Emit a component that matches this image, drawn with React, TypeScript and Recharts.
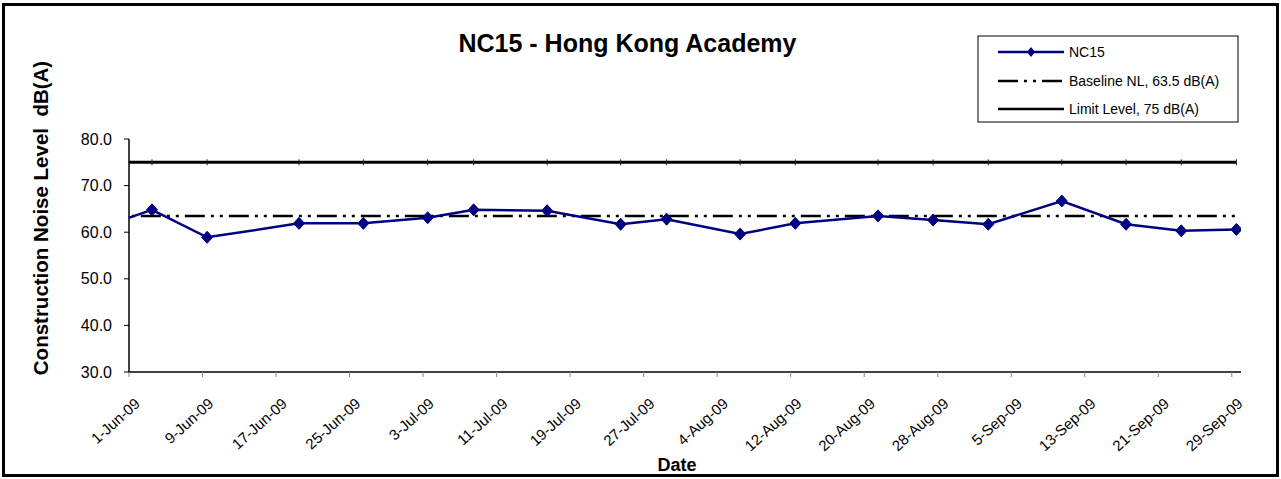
import React from 'react';
import { LineChart, Line, XAxis, YAxis } from 'recharts';

// Monitoring dates (28-May point sits before the axis start and is clipped)
const dates = [
  '2009-05-28', '2009-06-03', '2009-06-09', '2009-06-19', '2009-06-26',
  '2009-07-03', '2009-07-08', '2009-07-16', '2009-07-24', '2009-07-29',
  '2009-08-06', '2009-08-12', '2009-08-21', '2009-08-27', '2009-09-02',
  '2009-09-10', '2009-09-17', '2009-09-23', '2009-09-29',
];
const nc15 = [
  60.7, 64.8, 58.9, 61.9, 61.9,
  63.1, 64.8, 64.6, 61.7, 62.8,
  59.6, 61.9, 63.5, 62.6, 61.7,
  66.7, 61.7, 60.3, 60.6,
];
const BASELINE = 63.5;
const LIMIT = 75;

const tickLabels = [
  '1-Jun-09', '9-Jun-09', '17-Jun-09', '25-Jun-09', '3-Jul-09', '11-Jul-09',
  '19-Jul-09', '27-Jul-09', '4-Aug-09', '12-Aug-09', '20-Aug-09', '28-Aug-09',
  '5-Sep-09', '13-Sep-09', '21-Sep-09', '29-Sep-09',
];
const yTicks = [30, 40, 50, 60, 70, 80];

const title = 'NC15 - Hong Kong Academy';
const yLabel = 'Construction Noise Level  dB(A)';
const xLabel = 'Date';
const legendNames = ['NC15', 'Baseline NL, 63.5 dB(A)', 'Limit Level, 75 dB(A)'];

const FONT = '"Liberation Sans", Arial, sans-serif';
const NAVY = '#000080';
const DASH = '20 6 3 6 3 6';

const DAY = 86400000;
const START = Date.UTC(2009, 5, 1);
const MONTHS: Record<string, number> = { May: 4, Jun: 5, Jul: 6, Aug: 7, Sep: 8 };

// days since 1-Jun; Excel date axis puts each point in the middle of its day slot
const isoToX = (iso: string) => {
  const [y, m, d] = iso.split('-').map(Number);
  return (Date.UTC(y, m - 1, d) - START) / DAY + 0.5;
};
const labelToDay = (s: string) => {
  const [d, mon] = s.split('-');
  return (Date.UTC(2009, MONTHS[mon], Number(d)) - START) / DAY;
};

const chartData = dates.map((d, i) => ({
  x: isoToX(d),
  nc15: nc15[i],
  baseline: BASELINE,
  limit: LIMIT,
}));
const tickPositions = tickLabels.map(labelToDay);

const renderDiamond = (props: any) => {
  const { cx, cy, index } = props;
  if (cx == null || cy == null) return <g key={index} />;
  return (
    <path
      key={index}
      d={`M${cx},${cy - 6} L${cx + 5.5},${cy} L${cx},${cy + 6} L${cx - 5.5},${cy} Z`}
      fill={NAVY}
      stroke={NAVY}
      strokeWidth={1}
    />
  );
};

const renderTickMark = (props: any) => {
  const { cx, cy, index } = props;
  if (cx == null || cy == null) return <g key={index} />;
  return <line key={index} x1={cx} x2={cx} y1={cy - 3} y2={cy + 3} stroke="#222" strokeWidth={1} />;
};

const DateTick = (props: any) => {
  const { x, y, payload } = props;
  const i = tickPositions.indexOf(payload.value);
  return (
    <g transform={`translate(${x},${y})`}>
      <text x={12} y={26} textAnchor="end" transform="rotate(-42 12 26)" fontSize={15} fontFamily={FONT} fill="#000">
        {tickLabels[i]}
      </text>
    </g>
  );
};

const LegendBox = () => (
  <svg width={262} height={88} style={{ position: 'absolute', left: 977, top: 35 }}>
    <rect x={1} y={1} width={260} height={86} fill="#fff" stroke="#000" strokeWidth={1} />
    <line x1={21} x2={87} y1={17} y2={17} stroke={NAVY} strokeWidth={2.5} />
    <path d="M54,12 L58,17 L54,22 L50,17 Z" fill={NAVY} />
    <line x1={21} x2={87} y1={46} y2={46} stroke="#000" strokeWidth={2.5} strokeDasharray={DASH} />
    <line x1={21} x2={87} y1={74} y2={74} stroke="#000" strokeWidth={2.5} />
    {legendNames.map((n, i) => (
      <text key={n} x={92} y={[17, 46, 74][i] + 5} fontSize={14} fontFamily={FONT} fill="#000">
        {n}
      </text>
    ))}
  </svg>
);

export default function App() {
  return (
    <div style={{ position: 'relative', width: 1281, height: 479, background: '#fff', fontFamily: FONT }}>
      <style>{'body{margin:0}'}</style>
      <div
        style={{
          position: 'absolute', left: 2, top: 3, width: 1277, height: 474,
          border: '3px solid #000', boxSizing: 'border-box',
        }}
      />
      <LineChart width={1281} height={479} data={chartData} margin={{ top: 139, right: 40, bottom: 0, left: 0 }}>
        <XAxis
          type="number"
          dataKey="x"
          domain={[0, 121]}
          ticks={tickPositions}
          interval={0}
          allowDataOverflow
          height={107}
          tickSize={5}
          tick={<DateTick />}
          axisLine={{ stroke: '#000', strokeWidth: 1.5 }}
          tickLine={{ stroke: '#888' }}
        />
        <YAxis
          type="number"
          domain={[30, 80]}
          ticks={yTicks}
          width={129}
          tickSize={5}
          tickMargin={12}
          tickFormatter={(v: number) => v.toFixed(1)}
          tick={{ fontSize: 16, fill: '#000', fontFamily: FONT }}
          axisLine={{ stroke: '#000', strokeWidth: 1.5 }}
          tickLine={{ stroke: '#000' }}
        />
        <Line
          dataKey="limit"
          type="linear"
          stroke="#000"
          strokeWidth={3}
          dot={renderTickMark}
          activeDot={false}
          isAnimationActive={false}
        />
        <Line
          dataKey="baseline"
          type="linear"
          stroke="#000"
          strokeWidth={2.5}
          strokeDasharray={DASH}
          dot={false}
          activeDot={false}
          isAnimationActive={false}
        />
        <Line
          dataKey="nc15"
          type="linear"
          stroke={NAVY}
          strokeWidth={2.5}
          dot={renderDiamond}
          activeDot={false}
          isAnimationActive={false}
        />
      </LineChart>
      <div
        style={{
          position: 'absolute', left: 0, width: 1255, top: 29, lineHeight: '28px',
          textAlign: 'center', fontSize: 25, fontWeight: 'bold',
        }}
      >
        {title}
      </div>
      <div
        style={{
          position: 'absolute', left: 41, top: 218, transform: 'translate(-50%, -50%) rotate(-90deg)',
          whiteSpace: 'pre', fontSize: 20.5, fontWeight: 'bold', lineHeight: '24px',
        }}
      >
        {yLabel}
      </div>
      <div
        style={{
          position: 'absolute', left: 677, top: 465, transform: 'translate(-50%, -50%)',
          fontSize: 18, fontWeight: 'bold', lineHeight: '20px',
        }}
      >
        {xLabel}
      </div>
      <LegendBox />
    </div>
  );
}
